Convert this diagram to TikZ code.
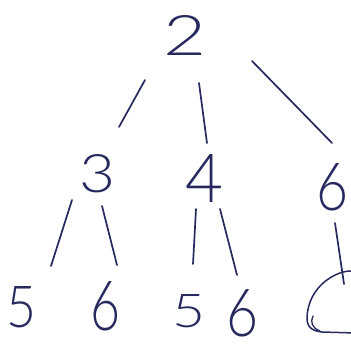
\documentclass[tikz,border=0pt]{standalone}
\usepackage{fontspec}
\usepackage{graphicx}
\IfFontExistsTF{Lato Light}{\newfontfamily\hand{Lato Light}}{%
  \IfFontExistsTF{Lato Thin}{\newfontfamily\hand{Lato Thin}}{\newfontfamily\hand{Fira Sans}}}
\definecolor{ink}{RGB}{40,42,95}
\newcommand{\dg}[3]{\resizebox{#1pt}{#2pt}{\hand #3}}
\begin{document}
\begin{tikzpicture}[x=1pt,y=-1pt,
  dig/.style={inner sep=0pt, outer sep=0pt, text=ink},
  edge/.style={draw=ink, line width=1.7pt, line cap=round}]
\useasboundingbox (0,0) rectangle (351,345);
\fill[white] (0,0) rectangle (351,345);
% level 0
\node[dig] (n2) at (185,35) {\dg{43}{40}{2}};
% level 1
\node[dig] (n3) at (98,174) {\dg{36}{38}{3}};
\node[dig] (n4) at (205,178) {\dg{38}{48}{4}};
\node[dig] (n6) at (333,187) {\dg{32}{47}{6}};
% level 2
\node[dig] (b1) at (22,307) {\dg{30}{41}{5}};
\node[dig] (b2) at (106,306) {\dg{30}{49}{6}};
\node[dig] (b3) at (189,311) {\dg{33}{33}{5}};
\node[dig] (b4) at (243,313) {\dg{32}{47}{6}};
\coordinate (b5) at (330,305);
% connectors
\draw[edge] ([shift={(-40,45)}]n2.center) -- ([shift={(21,-47)}]n3.center);
\draw[edge] ([shift={(14,48)}]n2.center) -- ([shift={(2,-35)}]n4.center);
\draw[edge] ([shift={(67,26)}]n2.center) -- ([shift={(-1,-44)}]n6.center);
\draw[edge] ([shift={(-26,26)}]n3.center) -- ([shift={(29,-41)}]b1.center);
\draw[edge] ([shift={(4,32)}]n3.center) -- ([shift={(11,-41)}]b2.center);
\draw[edge] ([shift={(-9,31)}]n4.center) -- ([shift={(4,-47)}]b3.center);
\draw[edge] ([shift={(15,31)}]n4.center) -- ([shift={(-6,-38)}]b4.center);
\draw[edge] ([shift={(2,36)}]n6.center) -- ([shift={(14,-21)}]b5);
% partial figure at the lower right
\draw[edge, line width=1.5pt] ([shift={(22,-34)}]b5)
  .. controls ([shift={(8,-35)}]b5) and ([shift={(-22,-20)}]b5) .. ([shift={(-23,13)}]b5)
  .. controls ([shift={(-23,23)}]b5) and ([shift={(-17,26)}]b5) .. ([shift={(-8,27)}]b5)
  -- ([shift={(25,28)}]b5);
\draw[edge, line width=1.3pt] ([shift={(-17,11)}]b5)
  .. controls ([shift={(-20,17)}]b5) and ([shift={(-18,23)}]b5) .. ([shift={(-10,26)}]b5);
\end{tikzpicture}
\end{document}
